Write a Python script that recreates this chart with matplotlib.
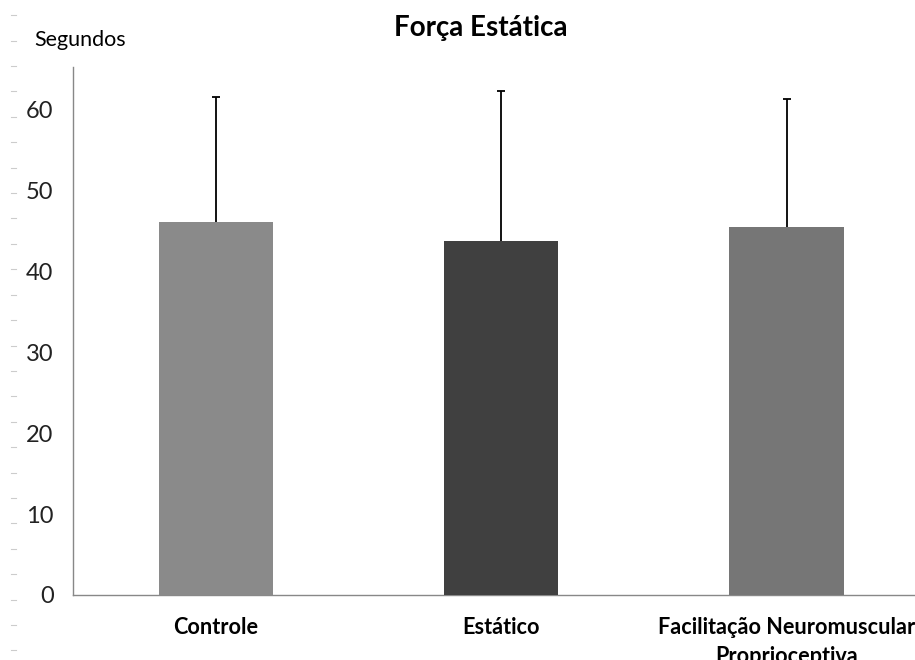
import numpy as np
import matplotlib.pyplot as plt

# dados
categorias = ["Controle", "Estático", "Facilitação Neuromuscular\nProprioceptiva"]
medias = [46.0, 43.7, 45.4]
desvios = [15.5, 18.5, 15.8]
cores = ["#8a8a8a", "#404040", "#767676"]

plt.rcParams['font.family'] = ['Lato', 'DejaVu Sans']

fig = plt.figure(figsize=(9.15, 6.6), dpi=100)
ax = fig.add_axes([0.0798, 0.0985, 0.9202, 0.80])

x = np.arange(len(categorias))
ax.bar(x, medias, width=0.4, color=cores, zorder=3)
# barra de erro só para cima, atrás da barra
ax.errorbar(x, np.array(medias) - 0.3, yerr=[np.zeros(len(desvios)), np.array(desvios) + 0.3],
            fmt="none", ecolor="black", elinewidth=1.3, capsize=3, capthick=1.3, zorder=2)

ax.set_xlim(-0.5, 2.45)
ax.set_ylim(0, 65.2)
ax.set_yticks(range(0, 70, 10))
ax.tick_params(axis="y", length=0, labelsize=17, pad=14, colors="#222222")
ax.tick_params(axis="x", length=0, pad=16)
ax.set_xticks(x)
ax.set_xticklabels(categorias, fontsize=15.6, fontweight="bold", linespacing=1.45)

for s in ["top", "right"]:
    ax.spines[s].set_visible(False)
for s in ["left", "bottom"]:
    ax.spines[s].set_color("#888888")
    ax.spines[s].set_linewidth(1.0)

fig.text(0.525, 0.957, "Força Estática", ha="center", va="center",
         fontsize=20, fontweight="bold")
fig.text(0.038, 0.939, "Segundos", ha="left", va="center", fontsize=15.5)

# tracinhos à esquerda
for yy in np.arange(0.977, 0.0, -0.0385):
    fig.add_artist(plt.Line2D([0.012, 0.018], [yy, yy], color="#cccccc", lw=0.8))

fig.savefig("out.png", dpi=100)
